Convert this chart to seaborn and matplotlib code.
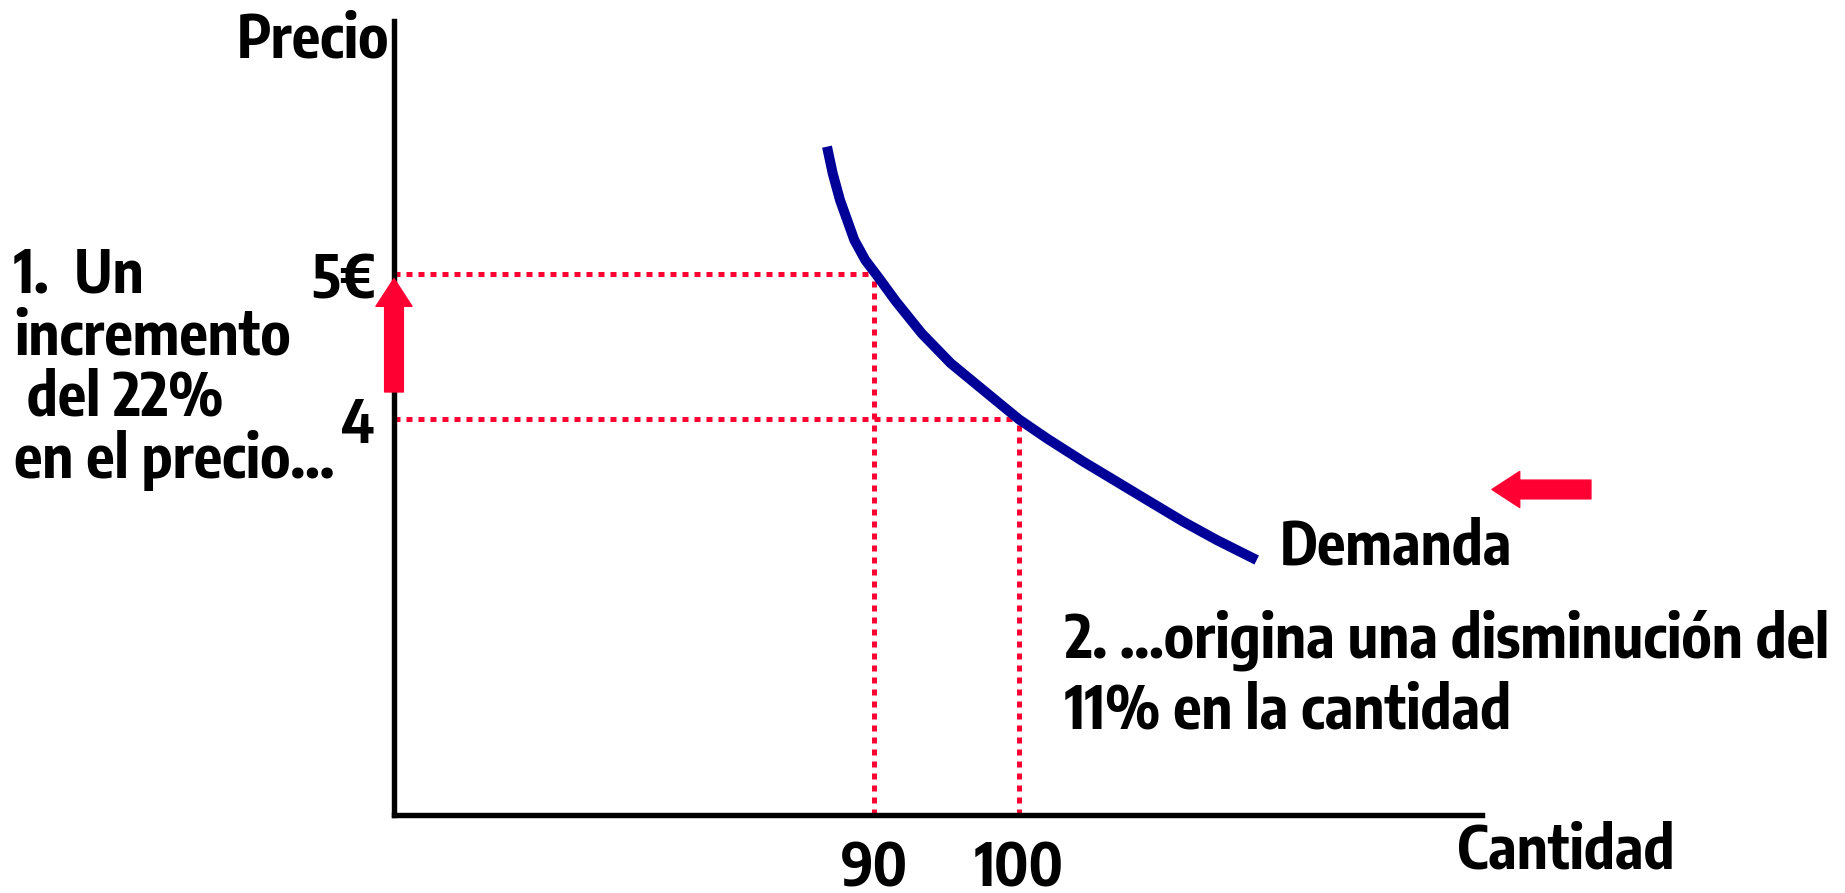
import matplotlib
matplotlib.use("Agg")
import matplotlib.pyplot as plt
from matplotlib import font_manager
import seaborn as sns
import pandas as pd
from matplotlib.patches import FancyArrowPatch

# ---------------- data ----------------
quantity = [86.713, 87.107, 87.612, 88.602, 89.363, 90.263, 91.488, 93.266, 95.273,
            98.221, 100.000, 101.917, 104.450, 106.761, 109.066, 111.370, 113.682, 116.450]
price = [5.884, 5.699, 5.514, 5.237, 5.098, 4.979, 4.811, 4.590, 4.383,
         4.140, 3.994, 3.863, 3.701, 3.562, 3.423, 3.285, 3.158, 3.019]
q_ticks = [90, 100]
q_tick_labels = ["90", "100"]
p_ticks = [4, 5]
p_tick_labels = ["4", "5€"]
x_label = "Cantidad"
y_label = "Precio"
curve_label = "Demanda"
note_left = "1.  Un\nincremento\n del 22%\nen el precio..."
note_right = "2. ...origina una disminución del\n11% en la cantidad"

# ---------------- style ----------------
sns.set_theme(style="white")


def wnum(w):
    if isinstance(w, str):
        return font_manager.weight_dict.get(w, 400)
    return int(w)


cands = [f for f in font_manager.fontManager.ttflist
         if ("Narrow" in f.name or "Condensed" in f.name)
         and wnum(f.weight) >= 600 and f.style == "normal"]
cands.sort(key=lambda f: (abs(wnum(f.weight) - 700), "Sans" not in f.name, f.name))
if cands:
    FAM = cands[0].name
    WEIGHT = wnum(cands[0].weight)
else:
    FAM = "Liberation Sans"
    WEIGHT = 700
plt.rcParams["font.family"] = [FAM, "DejaVu Sans"]
plt.rcParams["font.weight"] = WEIGHT
RED = "#FF0033"
NAVY = "#000099"

fig = plt.figure(figsize=(18.45, 8.93), dpi=100)
renderer = fig.canvas.get_renderer()

# size the font so the long note has the width seen in the reference (765 px)
probe = fig.text(0, 0, note_right.split("\n")[0], fontsize=40, fontweight=WEIGHT)
w40 = probe.get_window_extent(renderer).width
probe.remove()
FS = max(32, min(46, 40 * 765.0 / w40))

# line pitch of the font at FS with linespacing=1
p1 = fig.text(0, 0, "lp", fontsize=FS, fontweight=WEIGHT, linespacing=1.0)
p2 = fig.text(0, 0, "lp\nlp", fontsize=FS, fontweight=WEIGHT, linespacing=1.0)
pitch = p2.get_window_extent(renderer).height - p1.get_window_extent(renderer).height
p1.remove()
p2.remove()
LS_LEFT = 62.0 / pitch
LS_RIGHT = 73.0 / pitch

ax = fig.add_axes([0.21355, 0.08735, 0.58970, 0.88914])
xmin, xmax = 56.747, 132.042
ymin, ymax = 1.252, 6.755
ax.set_xlim(xmin, xmax)
ax.set_ylim(ymin, ymax)

for s in ["top", "right"]:
    ax.spines[s].set_visible(False)
for s in ["left", "bottom"]:
    ax.spines[s].set_color("black")
    ax.spines[s].set_linewidth(3.9)
    ax.spines[s].set_capstyle("projecting")

# demand curve
df = pd.DataFrame({"q": quantity, "p": price})
sns.lineplot(data=df, x="q", y="p", sort=False, color=NAVY, linewidth=7.2,
             ax=ax, solid_capstyle="butt", solid_joinstyle="round", clip_on=False)

# dotted guides
dot = dict(color=RED, linewidth=3.6, linestyle=(0, (1.2, 1.2)),
           dash_capstyle="butt", zorder=1)
ax.plot([xmin, q_ticks[0]], [p_ticks[1], p_ticks[1]], **dot)
ax.plot([xmin, q_ticks[1]], [p_ticks[0], p_ticks[0]], **dot)
ax.plot([q_ticks[0], q_ticks[0]], [ymin, p_ticks[1]], **dot)
ax.plot([q_ticks[1], q_ticks[1]], [ymin, p_ticks[0]], **dot)

# ticks
ax.set_xticks(q_ticks)
ax.set_xticklabels(q_tick_labels)
ax.set_yticks(p_ticks)
ax.set_yticklabels(p_tick_labels)
ax.tick_params(axis="x", length=0, pad=17, labelsize=FS, labelcolor="black")
ax.tick_params(axis="y", length=0, pad=14, labelsize=FS, labelcolor="black")
for lab in ax.get_xticklabels() + ax.get_yticklabels():
    lab.set_fontweight(WEIGHT)
ax.set_xlabel("")
ax.set_ylabel("")
ax.grid(False)

# axis titles
ax.text(xmin - 0.3, 6.62, y_label, ha="right", va="center", fontsize=FS,
        fontweight=WEIGHT, color="black", clip_on=False)
ax.text(130.31, 1.003, x_label, ha="left", va="center", fontsize=FS,
        fontweight=WEIGHT, color="black", clip_on=False)

# annotations
ax.text(118.06, 3.109, curve_label, ha="left", va="center", fontsize=FS,
        fontweight=WEIGHT, color="black", clip_on=False)
ax.text(103.18, 2.219, note_right, ha="left", va="center", fontsize=FS,
        fontweight=WEIGHT, color="black", linespacing=LS_RIGHT, clip_on=False)
ax.text(30.45, 4.353, note_left, ha="left", va="center", fontsize=FS,
        fontweight=WEIGHT, color="black", linespacing=LS_LEFT, clip_on=False)

# red arrows
arrow_style = "simple,head_length=20,head_width=26,tail_width=13.5"
up = FancyArrowPatch((xmin, 4.184), (xmin, 4.97), arrowstyle=arrow_style,
                     mutation_scale=1, color=RED, shrinkA=0, shrinkB=0,
                     clip_on=False, zorder=5)
ax.add_patch(up)
left = FancyArrowPatch((139.58, 3.508), (132.73, 3.508), arrowstyle=arrow_style,
                       mutation_scale=1, color=RED, shrinkA=0, shrinkB=0,
                       clip_on=False, zorder=5)
ax.add_patch(left)

fig.savefig("out.png", dpi=100)
